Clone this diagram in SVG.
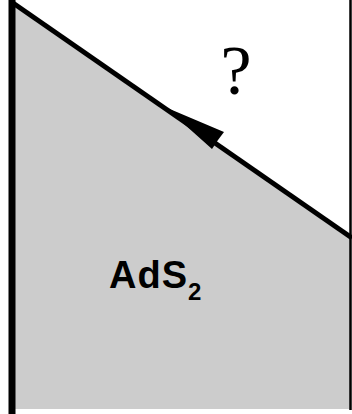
<svg xmlns="http://www.w3.org/2000/svg" width="352" height="414" viewBox="0 0 352 414">
<style>
.edge{stroke:#000;fill:none}
.lbl{font-family:"Liberation Sans",Arial,sans-serif;font-weight:bold;fill:#000}
.q{font-family:"Liberation Serif","Times New Roman",serif;fill:#000}
</style>
<rect width="352" height="414" fill="#fff"/>
<g id="region">
<polygon points="15,5 350,237 350,409 15,409" fill="#cccccc"/>
</g>
<g id="connectors">
<line class="edge" x1="12" y1="0" x2="12" y2="414" stroke-width="7"/>
<line class="edge" x1="350.5" y1="0" x2="350.5" y2="410" stroke-width="2.5"/>
<line class="edge" x1="13" y1="3" x2="352" y2="238" stroke-width="5"/>
<polygon points="165,107 224,132 218,140 212,149" fill="#000"/>
</g>
<g id="label-ads2">
<text class="lbl" x="109" y="288" font-size="38" letter-spacing="1">AdS<tspan font-size="24" dy="12" letter-spacing="0">2</tspan></text>
</g>
<g id="label-q">
<text class="q" x="236" y="94" font-size="70" text-anchor="middle">?</text>
</g>
</svg>
